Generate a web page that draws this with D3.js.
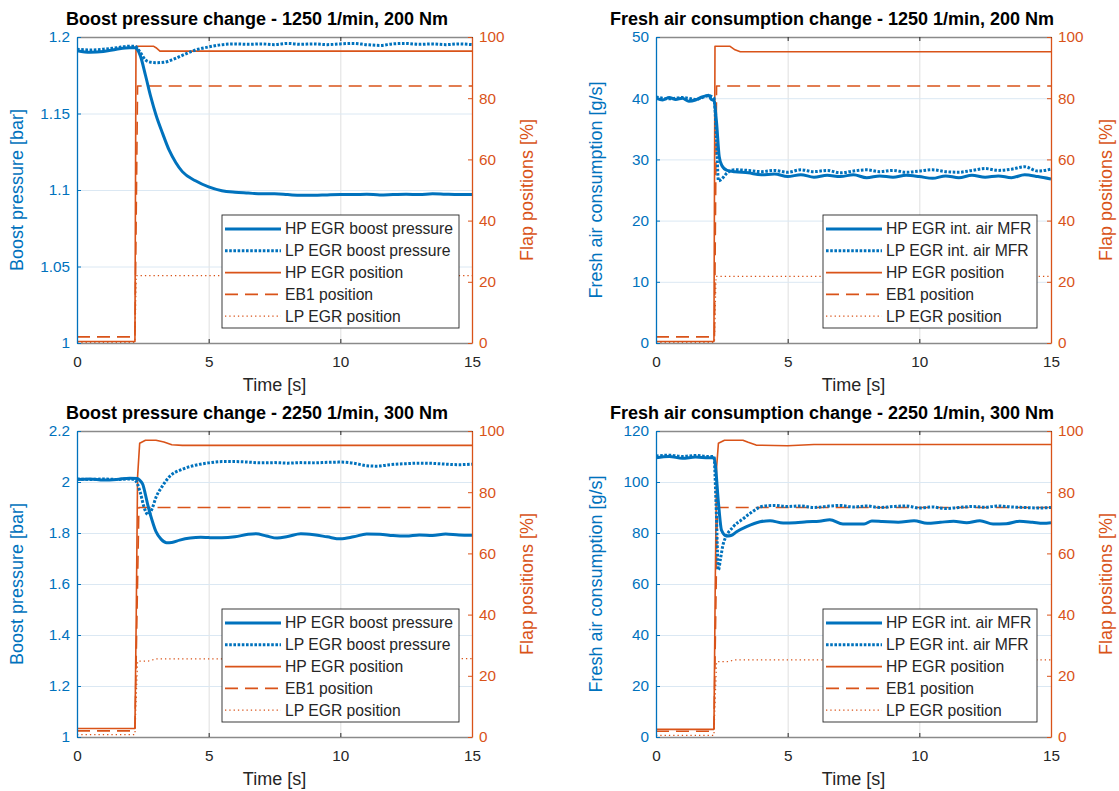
<!DOCTYPE html>
<html>
<head>
<meta charset="utf-8">
<script src="https://cdn.jsdelivr.net/npm/d3@7"></script>
<style>
  body { margin: 0; background: #fff; }
  text { font-family: "Liberation Sans", Arial, sans-serif; }
</style>
</head>
<body>
<svg id="chart" width="1119" height="791"></svg>
<script>
// ---- data: [time s, value] ----
const timeTicks = [0, 5, 10, 15];
const flapTicks = [0, 20, 40, 60, 80, 100];
const boostTicks1250 = [1, 1.05, 1.1, 1.15, 1.2];
const airTicks1250 = [0, 10, 20, 30, 40, 50];
const boostTicks2250 = [1, 1.2, 1.4, 1.6, 1.8, 2, 2.2];
const airTicks2250 = [0, 20, 40, 60, 80, 100, 120];

// boost pressure, 1250 1/min 200 Nm
const boost1250Hp = [[0,1.191],[0.5,1.190],[1,1.1905],[1.5,1.192],[2,1.193],[2.2,1.193],[2.4,1.188],[2.6,1.175],[2.8,1.161],[3,1.149],[3.25,1.137],[3.5,1.126],[3.75,1.118],[4,1.112],[4.5,1.106],[5,1.102],[5.5,1.0995],[6,1.0985],[6.5,1.098],[7,1.0975],[7.5,1.0975],[8,1.097],[8.5,1.0965],[9,1.0965],[9.5,1.0968],[10,1.097],[10.5,1.097],[11,1.0972],[11.5,1.0968],[12,1.097],[12.5,1.0972],[13,1.097],[13.5,1.0975],[14,1.0972],[14.5,1.097],[15,1.097]];
const boost1250Lp = [[0,1.192],[0.5,1.1915],[1,1.192],[1.5,1.193],[2,1.194],[2.2,1.194],[2.4,1.19],[2.6,1.185],[2.8,1.1835],[3,1.1832],[3.3,1.1835],[3.6,1.185],[4,1.188],[4.5,1.1915],[5,1.1935],[5.5,1.195],[6,1.1955],[6.5,1.1952],[7,1.1955],[7.5,1.195],[8,1.1958],[8.5,1.1952],[9,1.1955],[9.5,1.195],[10,1.1955],[10.5,1.1958],[11,1.195],[11.5,1.1945],[12,1.1955],[12.5,1.1958],[13,1.1952],[13.5,1.1955],[14,1.195],[14.5,1.1955],[15,1.195]];
const flap1250HpPosA = [[0,0.5],[2.2,0.5],[2.24,97],[2.9,97],[3.0,96.5],[3.15,95.4],[15,95.4]];
const flap1250Eb1A = [[0,2],[2.2,2],[2.3,84],[15,84]];
const flap1250LpPosA = [[0,0.2],[2.2,0.2],[2.25,22],[15,22]];

// fresh air, 1250 1/min 200 Nm
const air1250Hp = [[0,40],[0.25,39.7],[0.5,40.1],[0.75,39.8],[1,40],[1.25,39.5],[1.5,39.7],[1.75,40.2],[2,40.5],[2.1,39.8],[2.2,39.6],[2.3,36],[2.4,30.5],[2.5,29],[2.7,28.2],[3,28],[3.5,27.8],[4,27.5],[4.5,27.6],[5,27.2],[5.5,27.5],[6,27.1],[6.5,27.4],[7,27.2],[7.5,27.5],[8,27],[8.5,27.3],[9,27.1],[9.5,27.4],[10,27.2],[10.5,26.9],[11,27.3],[11.5,27],[12,27.4],[12.5,27.1],[13,27.3],[13.5,27],[14,27.5],[14.5,27.2],[15,26.8]];
const air1250Lp = [[0,40.2],[0.5,39.9],[1,40.1],[1.5,39.8],[2,40.4],[2.2,40],[2.3,33],[2.37,26.5],[2.5,26.8],[2.7,27.8],[3,28.3],[3.5,28.2],[4,28],[4.5,28.2],[5,27.9],[5.5,28.3],[6,28],[6.5,28.2],[7,27.8],[7.5,28.1],[8,28.3],[8.5,28],[9,28.2],[9.5,27.9],[10,28.1],[10.5,28.3],[11,28],[11.5,27.9],[12,28.2],[12.5,28.5],[13,28.2],[13.5,28.4],[14,28.8],[14.5,28.1],[15,28.4]];
const flap1250HpPosB = [[0,0.5],[2.2,0.5],[2.24,97],[2.8,97],[3.0,95.8],[3.2,95.2],[15,95.2]];
const flap1250Eb1B = [[0,2],[2.22,2],[2.3,84],[15,84]];
const flap1250LpPosB = [[0,0.2],[2.22,0.2],[2.28,21.8],[15,21.8]];

// boost pressure, 2250 1/min 300 Nm
const boost2250Hp = [[0,2.01],[0.5,2.012],[1,2.008],[1.5,2.01],[2,2.015],[2.3,2.014],[2.4,2.005],[2.5,1.99],[2.6,1.95],[2.7,1.905],[2.85,1.85],[3,1.805],[3.2,1.775],[3.4,1.762],[3.6,1.763],[3.9,1.772],[4.3,1.78],[4.7,1.783],[5,1.782],[5.5,1.781],[6,1.785],[6.5,1.795],[6.8,1.797],[7.2,1.788],[7.6,1.78],[8,1.786],[8.5,1.797],[9,1.793],[9.5,1.785],[10,1.777],[10.5,1.785],[11,1.796],[11.5,1.795],[12,1.79],[12.5,1.788],[13,1.792],[13.5,1.79],[14,1.796],[14.5,1.792],[15,1.791]];
const boost2250Lp = [[0,2.012],[0.5,2.01],[1,2.012],[1.5,2.01],[2,2.012],[2.2,2.008],[2.4,1.96],[2.55,1.9],[2.7,1.872],[2.85,1.895],[3,1.94],[3.25,1.985],[3.5,2.02],[4,2.05],[4.5,2.066],[5,2.075],[5.5,2.08],[6,2.08],[6.5,2.078],[7,2.075],[7.5,2.076],[8,2.074],[8.5,2.076],[9,2.075],[9.5,2.077],[10,2.078],[10.5,2.074],[11,2.064],[11.4,2.062],[11.8,2.067],[12.5,2.072],[13,2.074],[13.5,2.073],[14,2.07],[14.5,2.068],[15,2.07]];
const flap2250HpPosA = [[0,2.8],[2.2,2.8],[2.25,40],[2.3,85],[2.38,96],[2.6,97],[3.0,97],[3.3,96.4],[3.6,95.5],[4,95.3],[15,95.3]];
const flap2250Eb1A = [[0,2],[2.2,2],[2.35,75],[15,75]];
const flap2250LpPosA = [[0,0.8],[2.2,0.8],[2.3,24.8],[2.7,24.8],[3.0,25.5],[15,25.6]];

// fresh air, 2250 1/min 300 Nm
const air2250Hp = [[0,109.5],[0.5,110],[1,109.3],[1.5,109.8],[2,109.5],[2.2,109.5],[2.25,107],[2.37,92],[2.49,81],[2.68,78.8],[2.85,79],[3.06,80.5],[3.44,82.5],[3.95,84.4],[4.33,84.8],[4.83,83.9],[5.3,84],[5.72,84.4],[6.2,84.6],[6.6,85.2],[7.1,83.5],[7.9,83.5],[8.2,84.7],[8.6,84.5],[9.2,84.2],[9.8,84.8],[10.3,83.8],[10.8,84.2],[11.3,84.6],[11.8,84],[12.3,84.8],[12.8,83.5],[13.3,83.6],[13.8,84.6],[14.3,84.2],[14.7,83.8],[15,84]];
const air2250Lp = [[0,110.2],[0.5,110.5],[1,110],[1.5,110.4],[2,110],[2.2,110],[2.28,91.6],[2.37,65.5],[2.45,70],[2.56,76],[2.94,82.5],[3.3,85.5],[3.57,87.7],[4.07,90.5],[4.5,90.8],[5,90.4],[5.5,90.6],[6,90],[6.5,90.5],[7,90.8],[7.5,90.2],[8,90.6],[8.5,90],[9,90.4],[9.5,90.6],[10,89.8],[10.5,90.2],[11,89.6],[11.5,90],[12,90.4],[12.5,90.1],[13,90.6],[13.5,90.2],[14,90],[14.5,89.8],[15,90]];
const flap2250HpPosB = [[0,2.5],[2.2,2.5],[2.25,50],[2.3,88],[2.37,96],[2.6,97],[3.3,97],[3.5,96.3],[3.8,95.4],[5,95.2],[6,95.6],[15,95.6]];
const flap2250Eb1B = [[0,1.9],[2.2,1.9],[2.33,75],[15,75]];
const flap2250LpPosB = [[0,0.5],[2.2,0.5],[2.3,24.6],[2.7,24.6],[3.0,25.2],[15,25.2]];

const boostNames = ["HP EGR boost pressure", "LP EGR boost pressure"];
const airNames = ["HP EGR int. air MFR", "LP EGR int. air MFR"];
const flapNames = ["HP EGR position", "EB1 position", "LP EGR position"];

const BLUE = "#0072BD", ORANGE = "#D95319", DARK = "#262626";
const svg = d3.select("#chart");

// line styles, in legend order
const styles = [
  { color: BLUE, width: 3, dash: null, right: false },
  { color: BLUE, width: 3, dash: "2.6,1.6", right: false },
  { color: ORANGE, width: 1.6, dash: null, right: true },
  { color: ORANGE, width: 1.6, dash: "13,7", right: true },
  { color: ORANGE, width: 1.2, dash: "1.3,3", right: true }
];

function drawPanel(p, idx) {
  const w = p.right - p.left, h = p.bottom - p.top;
  const x = d3.scaleLinear().domain([0, 15]).range([p.left, p.right]);
  const y = d3.scaleLinear().domain([p.yTicks[0], p.yTicks[p.yTicks.length - 1]]).range([p.bottom, p.top]);
  const yR = d3.scaleLinear().domain([0, 100]).range([p.bottom, p.top]);
  const g = svg.append("g");

  // grid
  g.append("g").attr("transform", `translate(0,${p.bottom})`)
    .call(d3.axisBottom(x).tickValues(timeTicks.slice(1, -1)).tickSize(-h).tickFormat(""))
    .call(a => a.select(".domain").remove())
    .selectAll("line").attr("stroke", "#dfdfdf");
  g.append("g").attr("transform", `translate(${p.left},0)`)
    .call(d3.axisLeft(y).tickValues(p.yTicks.slice(1, -1)).tickSize(-w).tickFormat(""))
    .call(a => a.select(".domain").remove())
    .selectAll("line").attr("stroke", "#dbe8f3");

  // data
  const clipId = "clip" + idx;
  g.append("clipPath").attr("id", clipId).append("rect")
    .attr("x", p.left).attr("y", p.top - 2).attr("width", w).attr("height", h + 4);
  const plot = g.append("g").attr("clip-path", `url(#${clipId})`);
  const order = [2, 3, 4, 0, 1];
  order.forEach(i => {
    const s = styles[i];
    const sc = s.right ? yR : y;
    const line = d3.line().x(d => x(d[0])).y(d => sc(d[1]))
      .curve(s.right ? d3.curveLinear : d3.curveMonotoneX);
    plot.append("path").datum(p.series[i])
      .attr("fill", "none").attr("stroke", s.color)
      .attr("stroke-width", s.width)
      .attr("stroke-dasharray", s.dash)
      .attr("stroke-linejoin", "round")
      .attr("d", line);
  });

  // axes
  const fs = "15.3px";
  g.append("g").attr("transform", `translate(0,${p.top})`)
    .call(d3.axisTop(x).tickValues(timeTicks).tickSize(-4).tickSizeOuter(0).tickFormat(""))
    .call(a => a.select(".domain").attr("stroke", "#8a8a8a").attr("stroke-width", 1.3))
    .selectAll("line").attr("stroke", DARK);
  const xb = g.append("g").attr("transform", `translate(0,${p.bottom})`)
    .call(d3.axisBottom(x).tickValues(timeTicks).tickSize(-4).tickSizeOuter(0).tickPadding(13).tickFormat(d3.format("d")));
  xb.select(".domain").attr("stroke", "#8a8a8a").attr("stroke-width", 1.3);
  xb.selectAll("line").attr("stroke", DARK);
  xb.selectAll("text").attr("fill", DARK).style("font-size", fs);

  const yl = g.append("g").attr("transform", `translate(${p.left},0)`)
    .call(d3.axisLeft(y).tickValues(p.yTicks).tickSize(-4).tickSizeOuter(0).tickPadding(7).tickFormat(d3.format("~g")));
  yl.select(".domain").attr("stroke", BLUE).attr("stroke-width", 1.3);
  yl.selectAll("line").attr("stroke", BLUE);
  yl.selectAll("text").attr("fill", BLUE).style("font-size", fs);

  const yr = g.append("g").attr("transform", `translate(${p.right},0)`)
    .call(d3.axisRight(yR).tickValues(flapTicks).tickSize(-4).tickSizeOuter(0).tickPadding(7));
  yr.select(".domain").attr("stroke", ORANGE).attr("stroke-width", 1.3);
  yr.selectAll("line").attr("stroke", ORANGE);
  yr.selectAll("text").attr("fill", ORANGE).style("font-size", fs);

  // title and labels
  g.append("text").attr("x", p.titleX).attr("y", p.top - 12)
    .attr("text-anchor", "middle").style("font-size", "18px").style("font-weight", "bold")
    .attr("fill", "#000").text(p.title);
  g.append("text").attr("x", (p.left + p.right) / 2).attr("y", p.bottom + 48)
    .attr("text-anchor", "middle").style("font-size", "18px").attr("fill", DARK).text("Time [s]");
  const cy = (p.top + p.bottom) / 2;
  g.append("text").attr("transform", `translate(${p.left - 54},${cy}) rotate(-90)`)
    .attr("text-anchor", "middle").style("font-size", "18px").attr("fill", BLUE).text(p.yLabel);
  g.append("text").attr("transform", `translate(${p.right + 61},${cy}) rotate(-90)`)
    .attr("text-anchor", "middle").style("font-size", "18px").attr("fill", ORANGE).text("Flap positions [%]");

  // legend
  const lg = g.append("g").attr("transform", `translate(${p.legend[0]},${p.top + 178})`);
  lg.append("rect").attr("x", 0).attr("y", 0).attr("width", p.legend[1]).attr("height", 113)
    .attr("fill", "#fff").attr("stroke", DARK).attr("stroke-width", 0.9);
  p.names.forEach((name, i) => {
    const s = styles[i];
    const ry = 14 + i * 21.8;
    lg.append("line").attr("x1", 3).attr("x2", 59).attr("y1", ry).attr("y2", ry)
      .attr("stroke", s.color).attr("stroke-width", s.width).attr("stroke-dasharray", s.dash);
    lg.append("text").attr("x", 63).attr("y", ry).attr("dy", "0.35em")
      .style("font-size", "15.7px").attr("fill", DARK).text(name);
  });
}

const panels = [
  { left: 77, right: 472, top: 37, bottom: 343, titleX: 257, yTicks: boostTicks1250,
    title: "Boost pressure change - 1250 1/min, 200 Nm", yLabel: "Boost pressure [bar]",
    names: boostNames.concat(flapNames), legend: [222, 237],
    series: [boost1250Hp, boost1250Lp, flap1250HpPosA, flap1250Eb1A, flap1250LpPosA] },
  { left: 656, right: 1051, top: 37, bottom: 343, titleX: 832, yTicks: airTicks1250,
    title: "Fresh air consumption change - 1250 1/min, 200 Nm", yLabel: "Fresh air consumption [g/s]",
    names: airNames.concat(flapNames), legend: [823, 214],
    series: [air1250Hp, air1250Lp, flap1250HpPosB, flap1250Eb1B, flap1250LpPosB] },
  { left: 77, right: 472, top: 431, bottom: 737, titleX: 257, yTicks: boostTicks2250,
    title: "Boost pressure change - 2250 1/min, 300 Nm", yLabel: "Boost pressure [bar]",
    names: boostNames.concat(flapNames), legend: [222, 237],
    series: [boost2250Hp, boost2250Lp, flap2250HpPosA, flap2250Eb1A, flap2250LpPosA] },
  { left: 656, right: 1051, top: 431, bottom: 737, titleX: 832, yTicks: airTicks2250,
    title: "Fresh air consumption change - 2250 1/min, 300 Nm", yLabel: "Fresh air consumption [g/s]",
    names: airNames.concat(flapNames), legend: [823, 214],
    series: [air2250Hp, air2250Lp, flap2250HpPosB, flap2250Eb1B, flap2250LpPosB] }
];

panels.forEach(drawPanel);
</script>
</body>
</html>
